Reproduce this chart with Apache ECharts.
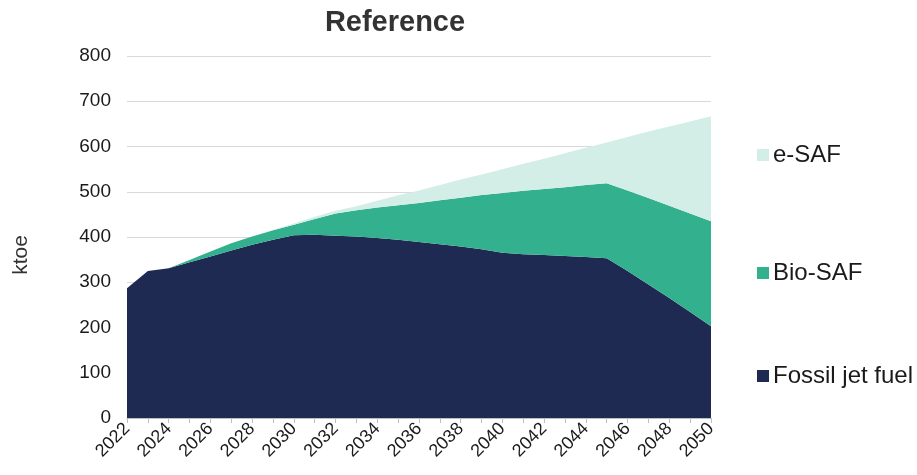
<!DOCTYPE html>
<html>
<head>
<meta charset="utf-8">
<script src="https://cdn.jsdelivr.net/npm/echarts@6/dist/echarts.min.js"></script>
<style>
html,body{margin:0;padding:0;background:#fff;}
#chart{width:917px;height:475px;}
</style>
</head>
<body>
<div id="chart"></div>
<script>
const years = ['2022','2023','2024','2025','2026','2027','2028','2029','2030','2031','2032','2033','2034','2035','2036','2037','2038','2039','2040','2041','2042','2043','2044','2045','2046','2047','2048','2049','2050'];
const fossilJetFuel = [287,325,331,344,357,370,383,394,404,405,403,401,398,394,389,384,379,373,365,362,360,358,356,353,325,295,265,234,203];
const bioSAF = [0,0,0,5,11,16,18,21,23,35,49,58,67,76,86,97,108,120,132,140,146,152,159,166,178,191,204,218,232];
const eSAF = [0,0,0,0,0,0,0,1,3,5,6,9,15,22,28,34,40,45,53,60,67,75,82,90,118,147,175,203,232];
const yTicks = [0,100,200,300,400,500,600,700,800];

const FONT = 'Liberation Sans, Arial, sans-serif';
const chart = echarts.init(document.getElementById('chart'));

function mkSeries(name, data, color) {
  return {
    name: name, type: 'line', stack: 'total', data: data,
    symbol: 'none', lineStyle: { width: 0 },
    areaStyle: { color: color, opacity: 1 },
    itemStyle: { color: color }
  };
}

function mkLegend(name, top) {
  return {
    data: [name], left: 752, top: top,
    itemWidth: 12, itemHeight: 12, icon: 'rect', itemGap: 0,
    textStyle: { fontFamily: FONT, fontSize: 24, color: '#1a1a1a', padding: [0,0,0,-1] }
  };
}

chart.setOption({
  animation: false,
  title: {
    text: 'Reference', left: 390, top: 3, textAlign: 'center',
    textStyle: { fontFamily: FONT, fontSize: 29, fontWeight: 'bold', color: '#333' }
  },
  legend: [mkLegend('e-SAF', 138), mkLegend('Bio-SAF', 256), mkLegend('Fossil jet fuel', 359)],
  grid: { left: 127, right: 206, top: 56, bottom: 57, containLabel: false },
  xAxis: {
    type: 'category', data: years, boundaryGap: false,
    axisLine: { lineStyle: { color: '#bfbfbf', width: 1 } },
    axisTick: { show: true, interval: 0, length: 5, lineStyle: { color: '#bfbfbf' } },
    axisLabel: { interval: 1, rotate: 45, fontFamily: FONT, fontSize: 18, color: '#1a1a1a', margin: 8 },
    splitLine: { show: false }
  },
  yAxis: {
    type: 'value', min: yTicks[0], max: yTicks[yTicks.length - 1], interval: 100,
    name: 'ktoe', nameLocation: 'middle', nameGap: 95, nameRotate: 90,
    nameTextStyle: { fontFamily: FONT, fontSize: 21, color: '#333', padding: [0, 36, 0, 0] },
    axisLine: { show: false }, axisTick: { show: false },
    axisLabel: { fontFamily: FONT, fontSize: 19, color: '#1a1a1a', margin: 16 },
    splitLine: { lineStyle: { color: '#d9d9d9', width: 1 } }
  },
  series: [
    mkSeries('Fossil jet fuel', fossilJetFuel, '#1e2a52'),
    mkSeries('Bio-SAF', bioSAF, '#33b08e'),
    mkSeries('e-SAF', eSAF, '#d3eee6')
  ]
});
</script>
</body>
</html>
